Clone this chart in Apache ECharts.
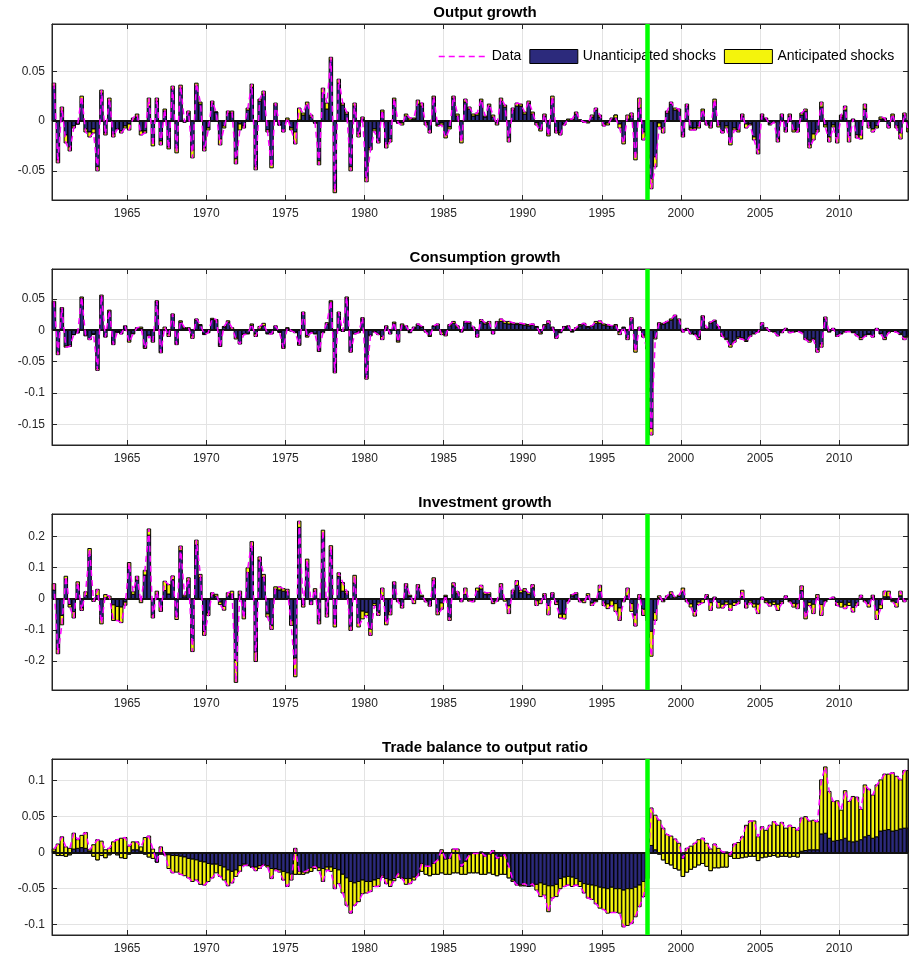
<!DOCTYPE html>
<html>
<head>
<meta charset="utf-8">
<script src="https://cdn.jsdelivr.net/npm/echarts@6/dist/echarts.min.js"></script>
<style>
  html, body { margin: 0; padding: 0; background: #fff; }
  #chart { width: 909px; height: 964px; }
</style>
</head>
<body>
<div id="chart"></div>
<script>
// Quarterly sample 1960Q2 .. 2014Q2, each quarter plotted at its midpoint
const firstDate = 1960.375;
const crisisDate = 1997.875;
const yearTicks = [1965, 1970, 1975, 1980, 1985, 1990, 1995, 2000, 2005, 2010];

// --- Output growth ---
const outputData = [
  0.038, -0.042, 0.014, -0.022, -0.030, -0.007, -0.003, 0.025, -0.011, -0.016,
  -0.012, -0.050, 0.031, -0.014, 0.023, -0.016, -0.008, -0.012, -0.007, -0.009,
  0.003, 0.007, -0.014, -0.012, 0.023, -0.025, 0.023, -0.024, 0.012, -0.028,
  0.035, -0.032, 0.036, -0.001, 0.010, -0.037, 0.038, 0.019, -0.030, -0.009,
  0.020, 0.009, -0.024, -0.007, 0.010, 0.010, -0.043, -0.009, -0.007, 0.013,
  0.037, -0.049, 0.022, 0.030, -0.011, -0.047, 0.018, -0.004, -0.011, 0.003,
  -0.009, -0.023, 0.013, 0.008, 0.019, 0.006, -0.002, -0.044, 0.033, 0.018,
  0.064, -0.072, 0.042, 0.018, 0.009, -0.050, 0.018, -0.016, 0.004, -0.061,
  -0.029, -0.010, -0.022, 0.011, -0.027, -0.021, 0.023, -0.002, -0.004, 0.007,
  0.003, 0.003, 0.021, 0.018, -0.004, -0.012, 0.025, -0.005, -0.004, -0.017,
  -0.008, 0.025, 0.007, -0.022, 0.022, 0.014, 0.007, 0.008, 0.022, 0.005,
  0.017, 0.006, -0.004, 0.023, 0.016, -0.021, 0.013, 0.018, 0.017, 0.009,
  0.020, 0.009, -0.004, -0.010, 0.007, -0.015, 0.025, -0.012, -0.014, -0.004,
  0.002, 0.002, 0.009, 0.001, -0.001, -0.002, 0.006, 0.013, 0.006, -0.005,
  -0.004, 0.003, 0.003, -0.007, -0.023, 0.006, 0.008, -0.039, 0.023, -0.019,
  -0.015, -0.068, -0.046, -0.006, -0.012, 0.010, 0.019, 0.013, 0.012, -0.016,
  0.017, -0.009, -0.009, -0.007, 0.012, -0.004, -0.007, 0.022, -0.006, -0.012,
  -0.007, -0.024, -0.009, -0.011, 0.007, -0.007, -0.004, -0.019, -0.033, 0.007,
  0.003, -0.004, -0.001, -0.021, 0.007, -0.011, 0.007, -0.011, -0.011, 0.008,
  0.012, -0.027, -0.019, -0.011, 0.019, -0.006, -0.021, -0.006, -0.022, 0.006,
  0.015, -0.021, 0.002, -0.017, -0.018, 0.017, -0.007, -0.011, -0.007, 0.004,
  0.003, -0.007, 0.007, -0.007, -0.018, 0.008, -0.011
];
const outputAnticipated = [
  0.003, -0.003, 0.004, -0.008, -0.004, -0.002, 0, 0.006, -0.003, -0.005,
  -0.004, -0.004, 0.003, -0.002, 0.003, -0.003, 0, -0.002, -0.002, -0.006,
  0.002, 0.003, -0.004, -0.002, 0.008, -0.005, 0.003, -0.004, 0.002, -0.002,
  0.003, -0.005, 0.003, 0, 0.002, -0.008, 0.003, 0.002, -0.003, -0.002,
  0.002, 0, -0.006, -0.002, 0.002, 0.002, -0.005, -0.006, -0.002, 0.002,
  0.003, -0.003, 0.002, 0.003, -0.002, -0.004, 0.002, 0, -0.002, 0.002,
  -0.002, -0.012, 0.012, 0.002, 0.003, 0.002, 0, -0.004, 0.005, 0.006,
  0.003, -0.004, 0.004, 0.002, 0.002, -0.004, 0.003, -0.003, 0.002, -0.004,
  -0.002, -0.002, -0.002, 0.002, -0.004, -0.003, 0.002, 0, -0.002, 0.002,
  0.002, 0.001, 0.004, 0.003, -0.002, -0.003, 0.002, -0.001, -0.002, -0.003,
  -0.002, 0.002, 0.002, -0.004, 0.003, 0.002, 0.002, 0.002, 0.002, 0.001,
  0.002, 0.002, -0.002, 0.003, 0.002, -0.004, 0.002, 0.003, 0.002, 0.002,
  0.002, 0.002, -0.002, -0.002, 0.002, -0.002, 0.003, -0.002, -0.002, -0.001,
  0.001, 0.001, 0.002, 0, 0, -0.001, 0.002, 0.002, 0.002, -0.002,
  -0.002, 0.001, -0.003, -0.004, -0.003, 0.004, 0.003, -0.007, 0.010, -0.008,
  -0.006, -0.010, -0.010, -0.004, -0.005, 0.002, 0.002, 0.002, 0.002, -0.002,
  0.002, -0.002, -0.002, -0.002, 0.002, -0.001, -0.002, 0.003, -0.002, -0.002,
  -0.002, -0.003, -0.002, -0.002, 0.002, -0.004, -0.001, -0.003, -0.004, 0.002,
  0.001, -0.001, 0, -0.003, 0.002, -0.002, 0.002, -0.002, -0.002, 0.002,
  0.002, -0.003, -0.006, -0.002, 0.005, -0.002, -0.005, -0.002, -0.006, 0.002,
  0.004, -0.006, 0.001, -0.003, -0.004, 0.005, -0.002, -0.003, -0.002, 0.002,
  0.001, -0.002, 0.002, -0.002, -0.006, 0.002, -0.004
];

// --- Consumption growth ---
const consumptionData = [
  0.046, -0.039, 0.036, -0.027, -0.026, -0.007, -0.004, 0.053, -0.009, -0.015,
  -0.007, -0.064, 0.056, -0.011, 0.032, -0.023, -0.003, -0.006, 0.007, -0.019,
  -0.006, 0.004, 0.005, -0.029, -0.009, -0.019, 0.047, -0.036, 0.005, -0.010,
  0.026, -0.023, 0.015, 0.004, 0.004, -0.013, 0.018, 0.009, -0.007, -0.004,
  0.019, 0.017, -0.026, 0.006, 0.015, 0.004, -0.014, -0.022, -0.007, -0.006,
  0.010, -0.010, 0.006, 0.011, -0.006, -0.006, 0.007, -0.003, -0.029, 0.004,
  -0.001, -0.004, -0.024, 0.029, -0.011, -0.004, -0.006, -0.034, -0.004, 0.012,
  0.047, -0.068, 0.029, -0.002, 0.053, -0.035, -0.006, -0.004, 0.020, -0.078,
  -0.009, -0.003, -0.007, -0.015, 0.007, -0.006, 0.013, -0.019, 0.010, 0.007,
  -0.004, 0.005, 0.010, 0.006, -0.003, -0.010, 0.007, 0.010, -0.007, -0.009,
  0.009, 0.014, 0.007, -0.003, 0.014, 0.013, 0.005, -0.011, 0.017, 0.012,
  0.014, -0.006, 0.014, 0.018, 0.014, 0.014, 0.012, 0.011, 0.011, 0.010,
  0.009, 0.010, 0.006, -0.006, 0.009, 0.015, 0.005, -0.013, -0.004, 0.006,
  0.007, -0.003, 0.004, 0.009, 0.011, 0.006, 0.007, 0.014, 0.015, 0.010,
  0.009, 0.007, 0.009, -0.007, 0.005, -0.015, 0.020, -0.035, 0.005, -0.011,
  -0.030, -0.167, -0.014, 0.012, 0.011, 0.014, 0.018, 0.024, 0.018, -0.003,
  0.003, -0.006, -0.007, -0.015, 0.023, 0.003, 0.013, 0.016, 0.006, -0.010,
  -0.015, -0.027, -0.019, -0.013, -0.014, -0.018, -0.010, -0.006, -0.003, 0.012,
  0.004, -0.002, -0.003, -0.009, -0.004, 0.003, -0.004, -0.003, -0.002, -0.004,
  -0.015, -0.019, -0.015, -0.035, -0.027, 0.021, -0.003, 0.003, -0.010, -0.006,
  -0.003, -0.002, -0.004, -0.009, -0.015, -0.010, -0.007, -0.011, 0.003, -0.006,
  -0.015, -0.004, -0.002, -0.003, -0.007, -0.015, -0.011
];
const consumptionAnticipated = [
  0.002, -0.004, 0.002, -0.002, -0.002, 0, 0, 0.002, -0.001, -0.002,
  -0.001, -0.003, 0.002, -0.001, 0.002, -0.002, 0, -0.001, 0.001, -0.003,
  -0.001, 0.001, 0.002, -0.002, -0.001, -0.002, 0.002, -0.002, 0.004, -0.004,
  0.002, -0.002, 0.002, 0.001, 0.001, -0.004, 0.002, 0.001, -0.001, -0.001,
  0.002, 0.002, -0.002, 0.001, 0.002, 0.003, -0.002, -0.002, -0.001, -0.001,
  0.002, -0.004, 0.004, 0.004, -0.001, -0.001, 0.001, 0, -0.002, 0.001,
  0, -0.001, -0.002, 0.002, -0.002, -0.001, -0.001, -0.002, -0.001, 0.002,
  0.002, -0.002, 0.002, 0, 0.002, -0.002, -0.001, -0.001, 0.002, -0.003,
  -0.001, -0.001, -0.002, -0.005, 0.002, -0.001, 0.002, -0.002, 0.002, 0.001,
  -0.001, 0.001, 0.002, 0.001, -0.001, -0.002, 0.001, 0.002, -0.004, -0.002,
  0.002, 0.003, 0.002, -0.001, 0.002, 0.002, 0.001, -0.002, 0.003, 0.002,
  0.003, -0.001, 0.002, 0.004, 0.003, 0.004, 0.002, 0.002, 0.002, 0.002,
  0.002, 0.002, 0.001, -0.002, 0.002, 0.004, 0.001, -0.002, -0.001, 0.001,
  0.001, -0.001, 0.001, 0.002, 0.002, 0.001, 0.001, 0.003, 0.004, 0.002,
  0.002, 0.001, 0.002, -0.004, 0.001, -0.003, 0.003, -0.005, 0.002, -0.003,
  -0.004, -0.010, -0.002, 0.002, 0.002, 0.002, 0.002, 0.002, 0.002, -0.001,
  0.001, -0.001, -0.001, -0.003, 0.002, 0.001, 0.002, 0.002, 0.001, -0.002,
  -0.002, -0.004, -0.002, -0.002, -0.002, -0.002, -0.002, -0.001, -0.001, 0.003,
  0.001, -0.001, -0.001, -0.001, -0.001, 0.001, -0.001, -0.001, -0.001, -0.001,
  -0.002, -0.003, -0.002, -0.004, -0.005, 0.003, -0.001, 0.001, -0.002, -0.001,
  -0.001, -0.001, -0.001, -0.002, -0.003, -0.002, -0.001, -0.002, 0.001, -0.001,
  -0.003, -0.001, -0.001, -0.001, -0.002, -0.004, -0.002
];

// --- Investment growth ---
const investmentData = [
  0.048, -0.177, -0.084, 0.072, -0.027, -0.062, 0.054, -0.038, 0.022, 0.161,
  -0.009, 0.030, -0.081, 0.013, 0.008, -0.070, -0.070, -0.077, -0.021, 0.116,
  0.022, 0.072, -0.013, 0.091, 0.224, -0.062, 0.024, -0.041, 0.056, 0.045,
  0.073, -0.067, 0.169, 0.011, 0.067, -0.170, 0.188, 0.078, -0.118, -0.054,
  0.019, 0.014, -0.019, -0.037, 0.019, 0.024, -0.269, 0.024, -0.065, 0.099,
  0.183, -0.202, 0.134, 0.078, -0.059, -0.099, 0.038, 0.038, 0.032, 0.030,
  -0.086, -0.251, 0.249, -0.027, 0.127, -0.019, 0.032, -0.081, 0.220, -0.059,
  0.170, -0.091, 0.083, 0.052, 0.024, -0.102, 0.075, -0.091, -0.065, -0.054,
  -0.118, -0.022, -0.054, 0.034, -0.084, -0.052, 0.054, -0.010, -0.030, 0.048,
  0.011, -0.016, 0.045, 0.011, -0.010, -0.024, 0.067, -0.052, -0.034, 0.011,
  -0.070, 0.051, 0.022, -0.010, 0.034, -0.008, -0.010, 0.034, 0.043, 0.019,
  0.019, -0.016, -0.008, 0.048, -0.008, -0.048, 0.027, 0.058, 0.027, 0.032,
  0.019, 0.045, -0.022, -0.016, 0.016, -0.052, 0.019, -0.019, -0.062, -0.065,
  -0.010, 0.013, 0.019, -0.010, -0.013, 0.016, -0.022, -0.010, 0.043, -0.022,
  -0.032, -0.022, -0.041, -0.070, -0.010, 0.034, -0.041, -0.088, 0.013, -0.054,
  -0.070, -0.185, -0.070, 0.009, -0.010, 0.009, 0.022, 0.005, 0.011, 0.034,
  -0.010, -0.027, -0.056, -0.019, -0.013, 0.013, -0.038, 0.005, -0.030, -0.030,
  -0.019, -0.038, -0.022, -0.016, 0.027, -0.030, -0.013, -0.027, -0.048, 0.005,
  -0.013, -0.024, -0.019, -0.038, -0.016, 0.009, -0.010, -0.027, -0.032, 0.041,
  -0.065, -0.022, -0.048, 0.013, -0.054, -0.010, 0.000, 0.005, -0.022, -0.027,
  -0.032, -0.022, -0.043, -0.022, 0.011, -0.010, -0.027, 0.011, -0.067, -0.032,
  0.024, 0.024, -0.010, -0.027, 0.024, -0.010, 0.000
];
const investmentAnticipated = [
  0.020, -0.015, -0.030, 0.010, -0.008, -0.020, 0.010, -0.008, 0.012, 0.020,
  -0.009, 0.020, -0.015, 0.010, 0.008, -0.050, -0.045, -0.050, -0.010, 0.015,
  0.008, 0.012, -0.010, 0.015, 0.020, -0.010, 0.010, -0.015, 0.030, 0.030,
  0.012, -0.010, 0.015, 0.005, 0.010, -0.035, 0.015, 0.010, -0.012, -0.008,
  0.008, 0.006, -0.008, -0.012, 0.010, 0.010, -0.070, 0.010, -0.012, 0.015,
  0.015, -0.030, 0.010, 0.010, -0.010, -0.012, 0.008, 0.010, 0.008, 0.008,
  -0.015, -0.060, 0.020, -0.008, 0.015, -0.006, 0.008, -0.010, 0.020, -0.010,
  0.015, -0.012, 0.012, 0.028, 0.008, -0.012, 0.025, -0.012, -0.025, -0.010,
  -0.020, -0.006, -0.010, 0.025, -0.012, -0.010, 0.008, -0.004, -0.008, 0.008,
  0.004, -0.012, 0.008, 0.004, -0.004, -0.006, 0.008, -0.010, -0.020, 0.004,
  -0.010, 0.010, 0.006, -0.004, 0.020, -0.004, -0.004, 0.010, 0.012, 0.006,
  0.006, -0.006, -0.004, 0.010, -0.008, -0.025, 0.006, 0.015, 0.008, 0.008,
  0.006, 0.010, -0.015, -0.012, 0.006, -0.030, 0.006, -0.008, -0.012, -0.015,
  -0.004, 0.004, 0.006, -0.004, -0.008, 0.006, -0.008, -0.004, 0.020, -0.008,
  -0.015, -0.015, -0.025, -0.040, -0.004, 0.025, -0.025, -0.035, 0.010, -0.020,
  -0.030, -0.080, -0.025, 0.006, -0.004, 0.004, 0.008, 0.003, 0.004, 0.012,
  -0.004, -0.010, -0.015, -0.008, -0.010, 0.006, -0.025, 0.003, -0.018, -0.012,
  -0.008, -0.020, -0.010, -0.006, 0.020, -0.012, -0.006, -0.010, -0.030, 0.003,
  -0.006, -0.010, -0.008, -0.020, -0.006, 0.004, -0.004, -0.012, -0.015, 0.015,
  -0.020, -0.010, -0.030, 0.010, -0.035, -0.004, 0, 0.003, -0.010, -0.015,
  -0.012, -0.010, -0.015, -0.008, 0.008, -0.004, -0.012, 0.006, -0.030, -0.012,
  0.018, 0.018, -0.004, -0.015, 0.015, -0.004, 0
];

// --- Trade balance to output ratio ---
const tradeData = [
  0.005, 0.012, 0.022, 0.008, 0.006, 0.027, 0.018, 0.024, 0.028, 0.004,
  0.011, 0.018, 0.016, 0.004, 0.006, 0.015, 0.018, 0.020, 0.021, 0.009,
  0.015, 0.015, 0.008, 0.021, 0.023, 0.005, -0.013, 0.008, -0.002, -0.022,
  -0.028, -0.027, -0.030, -0.032, -0.035, -0.040, -0.038, -0.044, -0.045, -0.040,
  -0.035, -0.028, -0.033, -0.038, -0.046, -0.042, -0.033, -0.026, -0.018, -0.017,
  -0.020, -0.025, -0.022, -0.017, -0.020, -0.036, -0.024, -0.027, -0.038, -0.047,
  -0.038, 0.006, -0.026, -0.027, -0.025, -0.021, -0.019, -0.025, -0.040, -0.024,
  -0.026, -0.050, -0.043, -0.056, -0.073, -0.084, -0.073, -0.068, -0.057, -0.056,
  -0.054, -0.047, -0.047, -0.032, -0.043, -0.047, -0.039, -0.029, -0.036, -0.044,
  -0.043, -0.038, -0.032, -0.015, -0.019, -0.019, -0.015, -0.010, 0.004, -0.009,
  -0.008, 0.005, 0.005, -0.019, -0.012, -0.003, -0.001, -0.001, 0.001, -0.005,
  -0.002, 0.003, -0.008, -0.005, -0.003, -0.019, -0.038, -0.045, -0.044, -0.043,
  -0.047, -0.043, -0.052, -0.061, -0.059, -0.082, -0.063, -0.061, -0.050, -0.047,
  -0.045, -0.047, -0.045, -0.047, -0.056, -0.063, -0.065, -0.071, -0.077, -0.079,
  -0.084, -0.083, -0.083, -0.084, -0.103, -0.101, -0.098, -0.089, -0.075, -0.061,
  -0.036, 0.062, 0.052, 0.045, 0.034, 0.025, 0.023, 0.019, 0.013, -0.008,
  0.006, 0.009, 0.013, 0.018, 0.020, 0.013, 0.005, 0.012, 0.006, 0.001,
  0.001, -0.003, 0.012, 0.014, 0.022, 0.038, 0.044, 0.044, 0.022, 0.036,
  0.031, 0.038, 0.043, 0.038, 0.042, 0.034, 0.038, 0.035, 0.031, 0.048,
  0.050, 0.044, 0.045, 0.043, 0.101, 0.119, 0.085, 0.071, 0.072, 0.059,
  0.086, 0.071, 0.078, 0.077, 0.060, 0.094, 0.088, 0.080, 0.094, 0.101,
  0.109, 0.109, 0.111, 0.106, 0.101, 0.114, 0.114
];
const tradeUnanticipated = [
  0.002, -0.004, -0.004, -0.005, -0.003, 0.005, 0.006, 0.007, 0.006, 0.002,
  -0.005, -0.010, -0.004, -0.007, -0.003, 0.000, -0.003, -0.007, -0.008, -0.002,
  0.004, 0.004, 0.002, -0.002, -0.006, -0.008, -0.013, -0.002, -0.003, -0.003,
  -0.004, -0.004, -0.005, -0.006, -0.008, -0.009, -0.010, -0.012, -0.013, -0.015,
  -0.016, -0.016, -0.018, -0.020, -0.024, -0.026, -0.024, -0.018, -0.016, -0.018,
  -0.020, -0.020, -0.018, -0.017, -0.018, -0.022, -0.022, -0.024, -0.026, -0.028,
  -0.030, -0.030, -0.030, -0.030, -0.028, -0.026, -0.022, -0.021, -0.022, -0.020,
  -0.020, -0.022, -0.024, -0.030, -0.035, -0.040, -0.042, -0.040, -0.038, -0.040,
  -0.040, -0.038, -0.036, -0.034, -0.036, -0.038, -0.036, -0.034, -0.035, -0.036,
  -0.036, -0.034, -0.030, -0.026, -0.030, -0.032, -0.030, -0.030, -0.028, -0.030,
  -0.030, -0.028, -0.028, -0.030, -0.030, -0.028, -0.028, -0.028, -0.030, -0.030,
  -0.028, -0.030, -0.032, -0.030, -0.030, -0.035, -0.040, -0.044, -0.046, -0.046,
  -0.047, -0.046, -0.044, -0.042, -0.044, -0.046, -0.046, -0.044, -0.036, -0.034,
  -0.033, -0.034, -0.036, -0.040, -0.043, -0.044, -0.045, -0.046, -0.048, -0.049,
  -0.050, -0.048, -0.050, -0.050, -0.052, -0.050, -0.050, -0.048, -0.045, -0.040,
  -0.020, 0.010, 0.004, -0.002, -0.010, -0.015, -0.017, -0.022, -0.024, -0.033,
  -0.027, -0.023, -0.020, -0.017, -0.015, -0.019, -0.025, -0.021, -0.021, -0.020,
  -0.020, -0.005, -0.008, -0.008, -0.007, -0.006, -0.005, -0.005, -0.011, -0.007,
  -0.006, -0.005, -0.004, -0.006, -0.005, -0.005, -0.006, -0.005, -0.006, 0.002,
  0.003, 0.004, 0.004, 0.004, 0.026, 0.027, 0.020, 0.016, 0.017, 0.018,
  0.020, 0.016, 0.015, 0.016, 0.018, 0.022, 0.024, 0.020, 0.022, 0.030,
  0.031, 0.032, 0.030, 0.031, 0.033, 0.034, 0.034
];

const FONT = '"Liberation Sans", Arial, Helvetica, sans-serif';
const NAVY = '#2c2a7c';
const YELLOW = '#f4f40c';
const MAGENTA = '#ff00ff';
const GREEN = '#00ff00';
const AXIS = '#262626';
const GRIDLINE = '#e3e3e3';
const X_MIN = 1960.25;
const X_MAX = 2014.35;
const BAR_HALF = 0.11;

const quarters = outputData.map((_, k) => firstDate + 0.25 * k);

const panels = [
  { title: 'Output growth', data: outputData, ant: outputAnticipated,
    top: 24, min: -0.0793, max: 0.0974, ticks: [-0.05, 0, 0.05] },
  { title: 'Consumption growth', data: consumptionData, ant: consumptionAnticipated,
    top: 269, min: -0.183, max: 0.0976, ticks: [-0.15, -0.1, -0.05, 0, 0.05] },
  { title: 'Investment growth', data: investmentData, ant: investmentAnticipated,
    top: 514, min: -0.2935, max: 0.272, ticks: [-0.2, -0.1, 0, 0.1, 0.2] },
  { title: 'Trade balance to output ratio', data: tradeData, unant: tradeUnanticipated,
    top: 759, min: -0.1143, max: 0.130, ticks: [-0.1, -0.05, 0, 0.05, 0.1] }
];
const PANEL_H = 176;

// MATLAB-style cumulative stack: navy from 0 to U, yellow from U to U + A
function rectRenderer(fill) {
  return function (params, api) {
    const t = api.value(0);
    const p0 = api.coord([t - BAR_HALF, api.value(1)]);
    const p1 = api.coord([t + BAR_HALF, api.value(2)]);
    const rect = echarts.graphic.clipRectByRect({
      x: p0[0],
      y: Math.min(p0[1], p1[1]),
      width: p1[0] - p0[0],
      height: Math.abs(p1[1] - p0[1])
    }, params.coordSys);
    if (!rect) return null;
    return {
      type: 'rect',
      shape: rect,
      style: { fill: fill, stroke: '#000', lineWidth: 1 }
    };
  };
}

function tickAxis(values, extra) {
  return Object.assign({
    axisLine: { show: true, onZero: false, lineStyle: { color: AXIS } },
    axisTick: { show: true, inside: true, length: 5, customValues: values,
      lineStyle: { color: AXIS } },
    splitLine: { show: false }
  }, extra);
}

const grid = [], xAxis = [], yAxis = [], title = [], series = [];

panels.forEach((p, i) => {
  const unant = p.unant ? p.unant : p.data.map((d, k) => d - p.ant[k]);

  grid.push({ left: 52, right: 1, top: p.top, height: PANEL_H,
    show: true, borderColor: AXIS, borderWidth: 1 });

  title.push({ text: p.title, left: 480, top: p.top - 24, textAlign: 'center',
    textStyle: { fontFamily: FONT, fontSize: 15, fontWeight: 'bold', color: '#000' } });

  // bottom / left axes carry labels and grid lines, top / right only ticks
  xAxis.push(tickAxis(yearTicks, {
    gridIndex: i, type: 'value', min: X_MIN, max: X_MAX, position: 'bottom',
    axisLabel: { customValues: yearTicks, formatter: v => String(v),
      color: AXIS, fontFamily: FONT, fontSize: 12, margin: 8 },
    splitLine: { show: true, lineStyle: { color: GRIDLINE, width: 1 } }
  }));
  xAxis.push(tickAxis(yearTicks, {
    gridIndex: i, type: 'value', min: X_MIN, max: X_MAX, position: 'top',
    axisLabel: { show: false }
  }));
  yAxis.push(tickAxis(p.ticks, {
    gridIndex: i, type: 'value', min: p.min, max: p.max, position: 'left',
    axisLabel: { customValues: p.ticks, color: AXIS, fontFamily: FONT, fontSize: 12, margin: 7 },
    splitLine: { show: true, lineStyle: { color: GRIDLINE, width: 1 } }
  }));
  yAxis.push(tickAxis(p.ticks, {
    gridIndex: i, type: 'value', min: p.min, max: p.max, position: 'right',
    axisLabel: { show: false }
  }));

  const xi = 2 * i, yi = 2 * i;
  series.push({
    name: 'Unanticipated shocks', type: 'custom', xAxisIndex: xi, yAxisIndex: yi,
    renderItem: rectRenderer(NAVY), itemStyle: { color: NAVY },
    encode: { x: 0, y: [1, 2] }, z: 2, animation: false,
    data: quarters.map((t, k) => [t, 0, unant[k]])
  });
  series.push({
    name: 'Anticipated shocks', type: 'custom', xAxisIndex: xi, yAxisIndex: yi,
    renderItem: rectRenderer(YELLOW), itemStyle: { color: YELLOW },
    encode: { x: 0, y: [1, 2] }, z: 2, animation: false,
    data: quarters.map((t, k) => [t, unant[k], p.data[k]])
  });
  series.push({
    name: 'Data', type: 'line', xAxisIndex: xi, yAxisIndex: yi,
    symbol: 'none', z: 4, animation: false,
    lineStyle: { color: MAGENTA, width: 1.5, type: [6, 4] },
    itemStyle: { color: MAGENTA },
    data: quarters.map((t, k) => [t, p.data[k]]),
    markLine: {
      silent: true, symbol: ['none', 'none'], z: 3, animation: false,
      label: { show: false },
      data: [{ yAxis: 0, lineStyle: { color: '#111', width: 2.2, type: 'solid' } }]
    }
  });
  series.push({
    name: 'crisis', type: 'line', xAxisIndex: xi, yAxisIndex: yi, data: [],
    z: 6, animation: false,
    markLine: {
      silent: true, symbol: ['none', 'none'], z: 6, animation: false,
      label: { show: false },
      data: [{ xAxis: crisisDate, lineStyle: { color: GREEN, width: 4.5, type: 'solid' } }]
    }
  });
});

const chart = echarts.init(document.getElementById('chart'));
chart.setOption({
  backgroundColor: '#fff',
  animation: false,
  title: title,
  legend: {
    left: 433, top: 44,
    itemWidth: 48, itemHeight: 14, itemGap: 8,
    textStyle: { fontFamily: FONT, fontSize: 14, color: '#000' },
    data: [
      { name: 'Data',
        itemStyle: { color: 'rgba(0,0,0,0)', borderWidth: 0, opacity: 0 },
        lineStyle: { color: MAGENTA, width: 1.5, type: [6, 4], opacity: 1 } },
      { name: 'Unanticipated shocks', icon: 'rect',
        itemStyle: { color: NAVY, borderColor: '#000', borderWidth: 1 } },
      { name: 'Anticipated shocks', icon: 'rect',
        itemStyle: { color: YELLOW, borderColor: '#000', borderWidth: 1 } }
    ]
  },
  grid: grid,
  xAxis: xAxis,
  yAxis: yAxis,
  series: series
});
</script>
</body>
</html>
